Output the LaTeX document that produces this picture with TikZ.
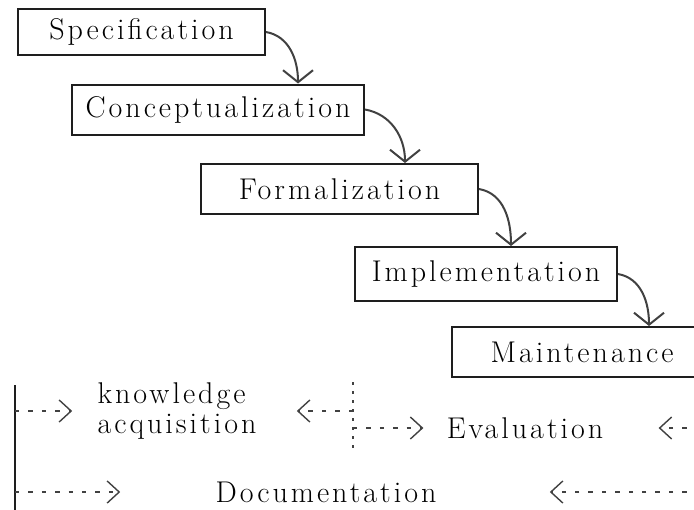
\documentclass[tikz,border=0pt]{standalone}
\usepackage{fontspec}
\usetikzlibrary{arrows.meta, calc}
\definecolor{wline}{RGB}{30,30,30}
\definecolor{warr}{RGB}{65,65,65}
\newfontfamily\wfam{Latin Modern Roman}[LetterSpace=10]
\newcommand{\wfont}{\wfam\fontsize{15}{15}\selectfont}

\begin{document}
\begin{tikzpicture}[
  x=0.5pt, y=-0.5pt,
  box/.style={rectangle, draw=wline, line width=1pt, minimum height=25pt,
              inner sep=0pt, font=\wfont},
  txt/.style={inner sep=0pt, align=left, font=\wfont},
  flow/.style={-{Straight Barb[length=6pt, width=15pt]}, line width=1pt, warr},
  back/.style={-{Straight Barb[length=6pt, width=11pt]}, line width=0.7pt, warr,
               dash pattern=on 2.2pt off 4.5pt}
]
\useasboundingbox (0,0) rectangle (694,509);
\clip (0,0) rectangle (694,509);

\node[box, minimum width=123.5pt, minimum height=23pt] (spec) at (141.5,32) {Specification};
\node[box, minimum width=146pt] (concept) at (218,109.5) {Conceptualization};
\node[box, minimum width=138.5pt] (form) at (339.5,189) {Formalization};
\node[box, minimum width=131pt, minimum height=27pt] (impl) at (486,274) {Implementation};
\node[box, minimum width=130pt] (maint) at (582,352) {Maintenance};

\draw[flow] (spec.east) to[out=-10, in=90] ($(spec.east |- concept.north)+(32,0)$);
\draw[flow] (concept.east) to[out=-10, in=90] ($(concept.east |- form.north)+(40,0)$);
\draw[flow] (form.east) to[out=-10, in=90] ($(form.east |- impl.north)+(32,0)$);
\draw[flow] (impl.east) to[out=-10, in=90] ($(impl.east |- maint.north)+(31,0)$);

\node[txt] (know) at (177,411) {knowledge\\acquisition};
\node[txt] (eval) at (525,428) {Evaluation};
\node[txt] (doc)  at (326,492) {Documentation};

\coordinate (railtop) at (15,385);
\coordinate (railbot) at (15,515);
\coordinate (splittop) at (353,382);
\coordinate (splitbot) at (353,452);
\coordinate (rightedge) at (700,0);

\draw[line width=1pt, wline] (railtop) -- (railbot);
\draw[line width=0.7pt, warr, dash pattern=on 1.5pt off 3pt] (splittop) -- (splitbot);

\draw[back, shorten >=12.5pt] (railtop |- know.west) -- (know.west);
\draw[back, shorten >=20pt] (splittop |- know.east) -- (know.east);
\draw[back, shorten >=11.5pt] (splittop |- eval.west) -- (eval.west);
\draw[back, shorten >=27.5pt] (rightedge |- eval.east) -- (eval.east);
\draw[back, shorten >=47.5pt] (railtop |- doc.west) -- (doc.west);
\draw[back, shorten >=56.5pt] (rightedge |- doc.east) -- (doc.east);
\end{tikzpicture}
\end{document}
